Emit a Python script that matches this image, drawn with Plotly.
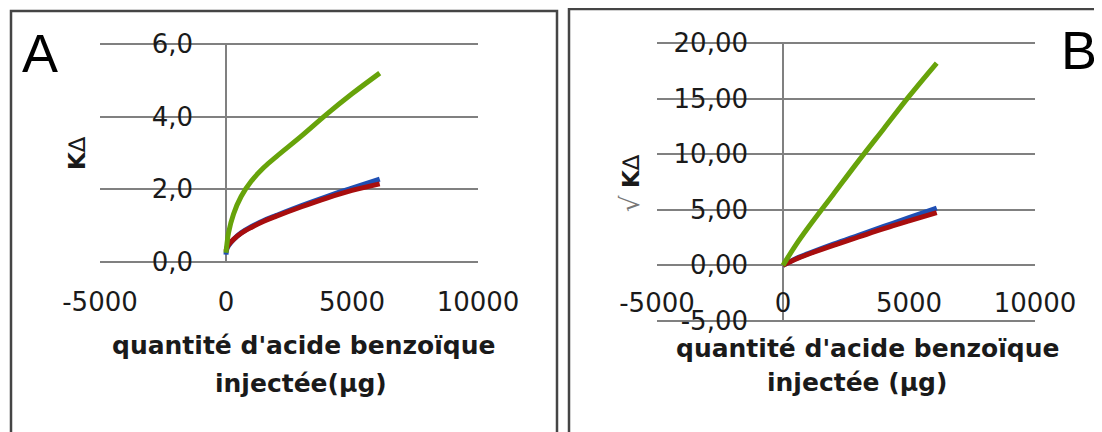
import plotly.graph_objects as go

# ---------------- data ----------------
# Panel A : K-delta vs injected benzoic acid (µg)
x_a = [0, 30, 100, 300, 600, 1000, 1500, 2000, 3000, 4000, 5000, 6100]
a_blue = [0.2, 0.35, 0.45, 0.62, 0.80, 0.97, 1.14, 1.28, 1.55, 1.80, 2.03, 2.28]
a_red = [0.3, 0.38, 0.47, 0.62, 0.79, 0.95, 1.12, 1.26, 1.52, 1.76, 1.97, 2.15]
a_green = [0.25, 0.45, 0.8, 1.32, 1.8, 2.22, 2.6, 2.9, 3.47, 4.07, 4.63, 5.2]

# Panel B : sqrt(K-delta) vs injected benzoic acid (µg)
x_b = [0, 500, 1000, 2000, 3000, 4000, 5000, 6100]
b_blue = [0, 0.6, 1.05, 1.9, 2.7, 3.5, 4.3, 5.15]
b_red = [0, 0.55, 1.0, 1.8, 2.55, 3.3, 4.0, 4.75]
b_green = [0, 1.8, 3.4, 6.4, 9.4, 12.3, 15.2, 18.2]

x_tickvals = [-5000, 0, 5000, 10000]
x_ticktext = ["-5000", "0", "5000", "10000"]
a_y_tickvals = [0, 2, 4, 6]
a_y_ticktext = ["0,0", "2,0", "4,0", "6,0"]
b_y_tickvals = [-5, 0, 5, 10, 15, 20]
b_y_ticktext = ["-5,00", "0,00", "5,00", "10,00", "15,00", "20,00"]

x_title = "quantité d'acide benzoïque"
a_x_title2 = "injectée(µg)"
b_x_title2 = "injectée (µg)"

# ---------------- styling ----------------
W, H = 1102, 432
OFF = 8  # page body margin
BLUE = "#1f4fb4"
RED = "#a80e0e"
GREEN = "#67a30a"
GRID = "#808080"
TXT = "#1a1a1a"
TICKFONT = dict(family="DejaVu Sans", size=26, color=TXT)
TITLEFONT = dict(family="DejaVu Sans", size=25, color=TXT)


def px(xp):
    return (xp - OFF) / W


def py(yp):
    return 1 - (yp - OFF) / H


fig = go.Figure()
for x, ys, ax in [(x_a, (a_blue, a_red, a_green), ("x", "y")),
                  (x_b, (b_blue, b_red, b_green), ("x2", "y2"))]:
    for y, c in zip(ys, (BLUE, RED, GREEN)):
        fig.add_trace(go.Scatter(x=x, y=y, mode="lines", xaxis=ax[0], yaxis=ax[1],
                                 line=dict(color=c, width=5, shape="spline"),
                                 showlegend=False, hoverinfo="skip"))

common_x = dict(range=[-5000, 10000], tickvals=x_tickvals, ticktext=x_ticktext,
                showgrid=False, zeroline=True, zerolinecolor=GRID, zerolinewidth=2,
                showline=False, ticks="outside", ticklen=16, automargin=False,
                tickcolor="rgba(0,0,0,0)", tickfont=TICKFONT, fixedrange=True)
common_y = dict(showgrid=True, gridcolor=GRID, gridwidth=1.5, zeroline=False,
                showline=False, ticks="", tickfont=TICKFONT, fixedrange=True,
                automargin=False)


def frame(x0, x1, ytop):
    return dict(type="path", xref="paper", yref="paper",
                path=f"M {x0},-0.1 L {x0},{ytop} L {x1},{ytop} L {x1},-0.1",
                line=dict(color="#454545", width=2.5))


def note(text, x, y, font, angle=0):
    return dict(text=text, x=px(x), y=py(y), xref="paper", yref="paper",
                xanchor="center", yanchor="middle", showarrow=False,
                textangle=angle, font=font)


BOLDK = dict(family="DejaVu Sans", size=23, color=TXT)

fig.update_layout(
    width=W, height=H, autosize=False,
    margin=dict(l=0, r=0, t=0, b=0, pad=0, autoexpand=False),
    paper_bgcolor="white", plot_bgcolor="white",
    xaxis=dict(domain=[px(100), px(478)], anchor="y", **common_x),
    yaxis=dict(domain=[py(263), py(43)], range=[-0.03, 6.03], tickvals=a_y_tickvals,
               ticktext=a_y_ticktext, anchor="free", position=px(193), **common_y),
    xaxis2=dict(domain=[px(657), px(1035)], anchor="free", position=py(264), **common_x),
    yaxis2=dict(domain=[py(322), py(42)], range=[-5.1, 20.1], tickvals=b_y_tickvals,
                ticktext=b_y_ticktext, anchor="free", position=px(748), **common_y),
    shapes=[
        frame(px(11), px(557), py(11)),
        frame(px(569), px(1106), py(9)),
    ],
    annotations=[
        note("A", 40, 53, dict(family="Liberation Sans", size=54, color="black")),
        note("B", 1079, 50, dict(family="Liberation Sans", size=54, color="black")),
        note("<b>" + x_title + "</b>", 303, 345, TITLEFONT),
        note("<b>" + a_x_title2 + "</b>", 301, 383, TITLEFONT),
        note("<b>" + x_title + "</b>", 867, 348, TITLEFONT),
        note("<b>" + b_x_title2 + "</b>", 857, 382, TITLEFONT),
        note("<b>K</b>∆", 77, 153, BOLDK, -90),
        note("<span style='color:#777;font-size:26px'>√</span> <b>K</b>∆", 630, 183, BOLDK, -90),
    ],
)

fig.write_html("out.html")
